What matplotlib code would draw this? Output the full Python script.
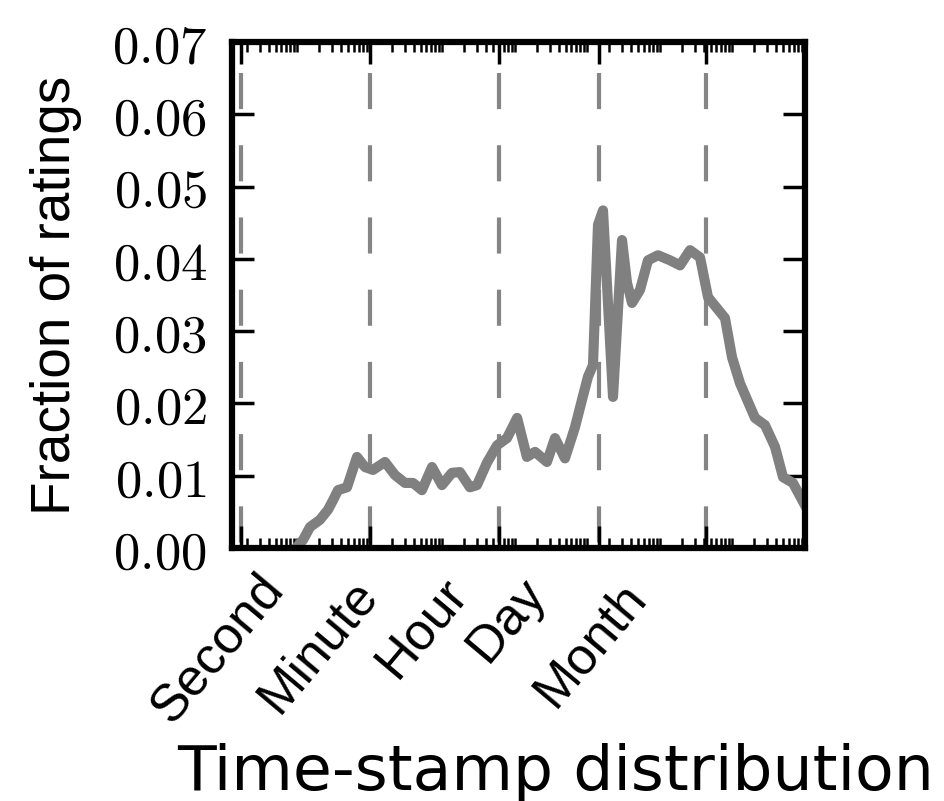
import matplotlib
matplotlib.use("Agg")
import matplotlib.pyplot as plt
import matplotlib.ticker as mticker
import matplotlib.transforms as mtransforms

plt.rcParams["mathtext.fontset"] = "cm"
plt.rcParams["lines.scale_dashes"] = False

# time between ratings, in minutes (log axis)
gap_minutes = [0.095, 0.119, 0.149, 0.204, 0.264, 0.309, 0.362, 0.482, 0.662, 0.853,
               1.10, 1.61, 2.21, 3.04, 3.92, 5.21, 7.17, 9.84, 13.5, 17.4,
               23.9, 29.9, 41.1, 56.5, 77.6, 107, 146, 189, 276, 356,
               489, 672, 840, 1016, 1191, 1396, 1637, 2249, 2993, 3508,
               4111, 5299, 6829, 9386, 13740, 18880, 25940, 35650, 45940, 78830,
               98470, 126800, 204200, 280600, 385500, 497500, 682900, 1000000]
fraction = [0.0, 0.0011, 0.0029, 0.0039, 0.0053, 0.0066, 0.0080, 0.0084, 0.0126, 0.0112,
            0.0108, 0.0119, 0.0101, 0.0090, 0.0090, 0.0080, 0.0112, 0.0087, 0.0104, 0.0105,
            0.0084, 0.0087, 0.0118, 0.0142, 0.0152, 0.0180, 0.0126, 0.0133, 0.0119, 0.0152,
            0.0124, 0.0167, 0.0205, 0.0237, 0.0253, 0.0447, 0.0467, 0.0209, 0.0426, 0.0367,
            0.0339, 0.0357, 0.0398, 0.0405, 0.0398, 0.0391, 0.0412, 0.0402, 0.0347, 0.0318,
            0.0264, 0.0228, 0.0180, 0.0170, 0.0140, 0.0098, 0.0090, 0.0059]

# reference marks (minutes)
mark_names = ["Second", "Minute", "Hour", "Day", "Month"]
mark_minutes = [1 / 60, 1, 60, 1440, 43200]

fig = plt.figure(figsize=(9.45, 8.01), dpi=100)
ax = fig.add_axes([232 / 945, 1 - 548 / 801, 573 / 945, 506 / 801])

for m in mark_minutes:
    ax.axvline(m, color="#858585", lw=3.0, linestyle=(48, (26, 26)), zorder=1)

ax.plot(gap_minutes, fraction, color="#808080", lw=7.3, zorder=2)

ax.set_xscale("log")
ax.set_xlim(0.0125, 1e6)
ax.set_ylim(0, 0.07)

for s in ax.spines.values():
    s.set_linewidth(4.5)

ax.set_xticks(mark_minutes)
ax.set_xticklabels(mark_names, rotation=50, ha="right", fontsize=37.5,
                   family="Liberation Sans")
ax.xaxis.set_minor_locator(mticker.LogLocator(base=10, subs=range(1, 10), numticks=20))
ax.xaxis.set_minor_formatter(mticker.NullFormatter())

ax.set_yticks([0, 0.01, 0.02, 0.03, 0.04, 0.05, 0.06, 0.07])
ax.yaxis.set_major_formatter(mticker.FuncFormatter(lambda v, p: f"${v:.2f}$"))

ax.tick_params(axis="both", which="major", direction="in", top=True, right=True,
               length=16, width=2.5)
ax.tick_params(axis="x", which="major", pad=15)
ax.tick_params(axis="y", which="major", labelsize=38, pad=18)
ax.tick_params(axis="x", which="minor", direction="in", top=True, bottom=True,
               length=7.5, width=1.8)

# the rotated labels sit a little off their marks in the original
label_dx = [52, 17, -22, -44, -50]
label_dy = [-4, 2, 0, 0, 4]
for lbl, dx, dy in zip(ax.get_xticklabels(), label_dx, label_dy):
    lbl.set_transform(lbl.get_transform() +
                      mtransforms.ScaledTranslation(dx / 100, -dy / 100, fig.dpi_scale_trans))

ax.set_ylabel("Fraction of ratings", fontsize=39.5, family="Liberation Sans")
ax.yaxis.set_label_coords(-0.262, 0.5)

fig.text(556 / 945, 1 - 790 / 801, "Time-stamp distribution", ha="center",
         va="baseline", fontsize=45.5, family="DejaVu Sans")

fig.savefig("out.png", dpi=100)
